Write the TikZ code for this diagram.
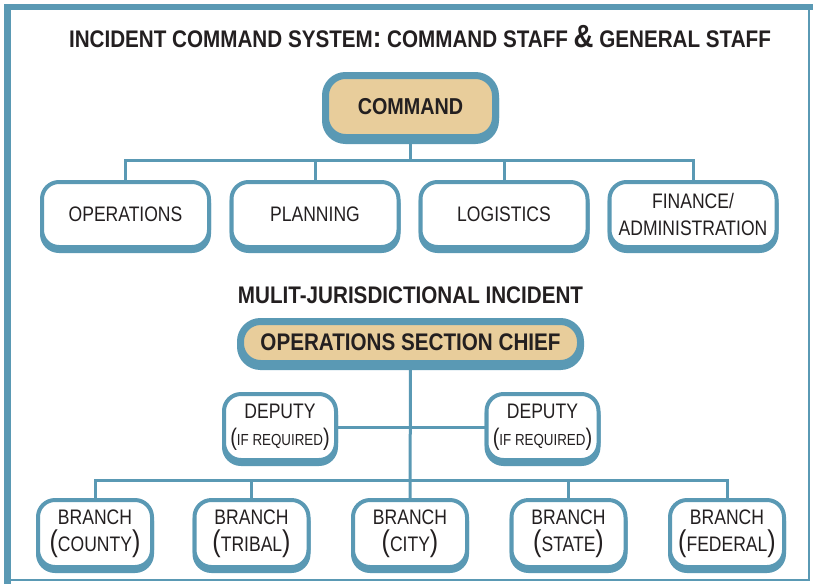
\documentclass[tikz,border=0pt]{standalone}
\usepackage{fontspec}
\usetikzlibrary{shadows,backgrounds}
\newfontfamily\cond[FakeStretch=0.835]{Liberation Sans}
\newfontfamily\condb[FakeStretch=0.86]{Liberation Sans}
\definecolor{bc}{HTML}{5A99B4}
\definecolor{tan}{HTML}{E8CD9B}
\definecolor{txt}{HTML}{231F20}
\newcommand{\BPar}[1]{{\fontsize{30}{30}\selectfont(}#1{\fontsize{30}{30}\selectfont)}}
\newcommand{\SPar}[1]{{\fontsize{24}{24}\selectfont(}#1{\fontsize{24}{24}\selectfont)}}
\tikzset{
  cbox/.style={draw=bc, line width=4pt, rounded corners=17pt, fill=white, text=txt,
    align=center, inner sep=0pt, font=\cond\fontsize{21}{27}\selectfont,
    copy shadow={shadow xshift=0pt, shadow yshift=-4pt, draw=bc, fill=bc}},
  hbox/.style={draw=bc, line width=7pt, rounded corners=20pt, fill=tan, text=txt,
    align=center, inner sep=0pt, font=\condb\bfseries\fontsize{24}{27}\selectfont,
    copy shadow={shadow xshift=0pt, shadow yshift=-3pt, draw=bc, fill=bc}},
  conn/.style={draw=bc, line width=3pt},
  heading/.style={text=txt, inner sep=0pt, font=\condb\bfseries\fontsize{24}{27}\selectfont}
}
\begin{document}
\begin{tikzpicture}[x=1pt,y=-1pt]
\useasboundingbox (0,0) rectangle (813,584);
% frame
\fill[bc] (4,4) rectangle (813,10);
\fill[bc] (4,4) rectangle (11,584);
\draw[bc, line width=1.5pt] (11,580) -- (809,580) -- (809,10);

\node[heading] (title) at (420,37)
  {INCIDENT COMMAND SYSTEM{\fontsize{30}{30}\selectfont:} COMMAND STAFF {\fontsize{32}{32}\selectfont\&} GENERAL STAFF};

\node[hbox, minimum width=170pt, minimum height=62pt, font=\condb\bfseries\fontsize{23}{27}\selectfont] (cmd) at (410.5,106.5) {COMMAND};

\node[cbox, minimum width=167pt, minimum height=65pt] (ops) at (125.5,214.5) {OPERATIONS};
\node[cbox, minimum width=167pt, minimum height=65pt] (plan) at (315,214.5) {PLANNING};
\node[cbox, minimum width=167pt, minimum height=65pt] (log) at (504,214.5) {LOGISTICS};
\node[cbox, minimum width=167pt, minimum height=65pt] (fin) at (693,214.5) {FINANCE/\\ADMINISTRATION};

\node[heading] (multi) at (410.5,295) {MULIT-JURISDICTIONAL INCIDENT};

\node[hbox, minimum width=340pt, minimum height=42pt] (osc) at (410.5,342.5) {OPERATIONS SECTION CHIEF};

\node[cbox, minimum width=112pt, minimum height=66pt] (depL) at (280,427) {DEPUTY\\\SPar{{\fontsize{16}{16}\selectfont IF REQUIRED}}};
\node[cbox, minimum width=112pt, minimum height=66pt] (depR) at (542.5,427) {DEPUTY\\\SPar{{\fontsize{16}{16}\selectfont IF REQUIRED}}};

\node[cbox, minimum width=114pt, minimum height=67pt] (county) at (95,533.5) {BRANCH\\\BPar{COUNTY}};
\node[cbox, minimum width=114pt, minimum height=67pt] (tribal) at (251.5,533.5) {BRANCH\\\BPar{TRIBAL}};
\node[cbox, minimum width=114pt, minimum height=67pt] (city) at (410,533.5) {BRANCH\\\BPar{CITY}};
\node[cbox, minimum width=114pt, minimum height=67pt] (state) at (568.5,533.5) {BRANCH\\\BPar{STATE}};
\node[cbox, minimum width=114pt, minimum height=67pt] (fed) at (727,533.5) {BRANCH\\\BPar{FEDERAL}};

\coordinate (bus1) at (410.5,160);
\coordinate (bus2) at (410,480);

\begin{scope}[on background layer]
\draw[conn] (cmd.south) -- (bus1);
\draw[conn] (ops.north) -- (ops.north |- bus1) -- (fin.north |- bus1) -- (fin.north);
\draw[conn] (plan.north) -- (plan.north |- bus1);
\draw[conn] (log.north) -- (log.north |- bus1);
\draw[conn] (osc.south) -- (city.north);
\draw[conn] (depL.east) -- (depR.west);
\draw[conn] (county.north) -- (county.north |- bus2) -- (fed.north |- bus2) -- (fed.north);
\draw[conn] (tribal.north) -- (tribal.north |- bus2);
\draw[conn] (state.north) -- (state.north |- bus2);
\end{scope}
\end{tikzpicture}
\end{document}
